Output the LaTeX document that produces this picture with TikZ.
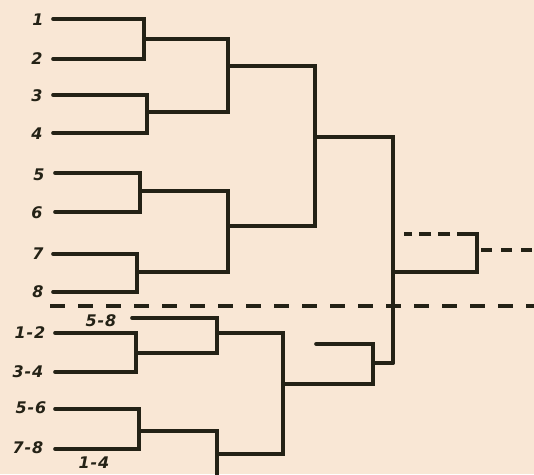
\documentclass[tikz,border=0pt]{standalone}
\usepackage{fontspec}
\newfontfamily\hand[LetterSpace=5]{DejaVu Sans}
\definecolor{paper}{RGB}{249,231,213}
\definecolor{ink}{RGB}{36,34,22}
\begin{document}
\begin{tikzpicture}[x=1pt,y=-1pt,
  wire/.style={draw=ink,line width=3.6pt,line cap=round,line join=miter},
  dwire/.style={wire,dash pattern=on 12pt off 8pt,line cap=butt},
  lab/.style={text=ink,font=\hand\bfseries\itshape\fontsize{16}{16}\selectfont,inner sep=0pt}]
\fill[paper] (0,0) rectangle (534,474);
\useasboundingbox (0,0) rectangle (534,474);
% labels
\node[lab] (t1) at (38,20) {1};
\node[lab] (t2) at (37,59) {2};
\node[lab] (t3) at (37,96) {3};
\node[lab] (t4) at (37,134) {4};
\node[lab] (t5) at (39,175) {5};
\node[lab] (t6) at (37,213) {6};
\node[lab] (t7) at (38,254) {7};
\node[lab] (t8) at (38,292) {8};
\node[lab] (u12) at (30,333) {1-2};
\node[lab] (u34) at (28,372) {3-4};
\node[lab] (u56) at (31,408) {5-6};
\node[lab] (u78) at (28,448) {7-8};
\node[lab] (u58) at (101,321) {5-8};
\node[lab] (u14) at (94,463) {1-4};
% coordinates
\coordinate (s1) at (53,19);  \coordinate (s2) at (53,59);
\coordinate (s3) at (53,95);  \coordinate (s4) at (53,133);
\coordinate (s5) at (55,173); \coordinate (s6) at (55,212);
\coordinate (s7) at (53,254); \coordinate (s8) at (53,292);
\coordinate (j12) at (144,39); \coordinate (j34) at (147,112);
\coordinate (j56) at (140,191); \coordinate (j78) at (137,272);
\coordinate (j14) at (228,66); \coordinate (j58) at (228,226);
\coordinate (j18) at (315,137);
\coordinate (jB) at (393,363); \coordinate (r1) at (393,272);
\coordinate (f1) at (477,234); \coordinate (f2) at (469,234);
\coordinate (f3) at (404,234);
\coordinate (f4) at (481,250); \coordinate (f5) at (534,250);
\coordinate (d1) at (50,306); \coordinate (d2) at (534,306);
\coordinate (v58) at (132,318);
\coordinate (v12) at (55,333); \coordinate (v34) at (55,372);
\coordinate (v56) at (55,409); \coordinate (v78) at (55,449);
\coordinate (k1234) at (136,353); \coordinate (kX) at (217,333);
\coordinate (k5678) at (139,431); \coordinate (kY) at (217,454);
\coordinate (kYb) at (217,476);
\coordinate (kZ) at (283,384); \coordinate (kW) at (373,363);
\coordinate (w1) at (316,344);
% upper tree
\draw[wire] (s1) -| (j12) |- (s2);
\draw[wire] (s3) -| (j34) |- (s4);
\draw[wire] (s5) -| (j56) |- (s6);
\draw[wire] (s7) -| (j78) |- (s8);
\draw[wire] (j12) -| (j14) |- (j34);
\draw[wire] (j56) -| (j58) |- (j78);
\draw[wire] (j14) -| (j18) |- (j58);
\draw[wire] (j18) -| (jB);
\draw[wire] (r1) -| (f1) -- (f2);
\draw[dwire,dash pattern=on 12pt off 7pt] (f2) -- (f3);
\draw[dwire,dash pattern=on 11pt off 9pt] (f4) -- (f5);
% separator
\draw[dwire,dash pattern=on 15pt off 13pt] (d1) -- (d2);
% lower tree
\draw[wire] (v12) -| (k1234) |- (v34);
\draw[wire] (v58) -| (kX) |- (k1234);
\draw[wire] (v56) -| (k5678) |- (v78);
\draw[wire] (k5678) -| (kYb);
\draw[wire] (kX) -| (kZ) |- (kY);
\draw[wire] (w1) -| (kW) |- (kZ);
\draw[wire] (kW) -- (jB);
\end{tikzpicture}
\end{document}
